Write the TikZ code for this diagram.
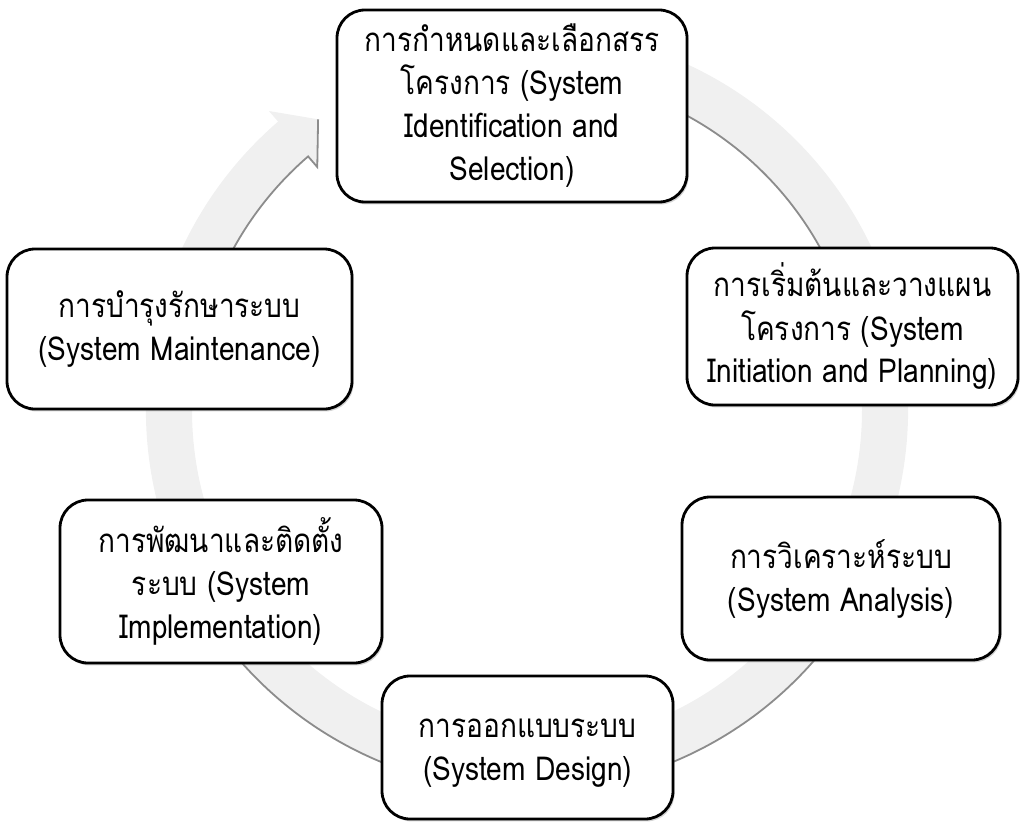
\documentclass[tikz,border=0pt]{standalone}
\usepackage{fontspec}
\newfontfamily\thaifont[Script=Thai, FakeStretch=0.85]{Loma}
\usetikzlibrary{calc,shadows}
\definecolor{bandgray}{RGB}{240,240,240}
\definecolor{bandedge}{RGB}{140,140,140}
\tikzset{
  stagefont/.style={align=center, font=\thaifont\fontsize{16.5}{21.5}\selectfont},
  stage/.style={draw=black, line width=1.4pt, fill=white, rounded corners=14pt,
    inner sep=0pt, stagefont,
    drop shadow={shadow xshift=0.8pt, shadow yshift=-1.2pt, opacity=0.35}},
  bandline/.style={draw=bandedge, line width=0.9pt},
}
\begin{document}
\begin{tikzpicture}[x=0.5pt,y=0.5pt]
\useasboundingbox (0,0) rectangle (1021,821);

% centre of the cycle and the key points of the arrow head
\coordinate (C) at (527,411);
\coordinate (ai) at ($(C)+(130.8:335)$);
\coordinate (bi) at ($(C)+(130.8:321)$);
\coordinate (bo) at ($(C)+(130.8:395)$);
\coordinate (tp) at ($(C)+(125.7:358)$);

% circular arrow band
\fill[bandgray] (ai) arc[start angle=130.8, end angle=435, radius=335]
  -- ($(C)+(435:381)$) arc[start angle=435, end angle=130.8, radius=381]
  -- (bo) -- (tp) -- (bi) -- cycle;

% shaded edges of the band
\draw[bandline] ($(C)+(165:335)$) arc[start angle=165, end angle=130.8, radius=335]
  -- (bi) -- (tp);
\draw[bandline] ($(C)+(15:335)$) arc[start angle=15, end angle=70, radius=335];
\draw[bandline] ($(C)+(200:381)$) arc[start angle=200, end angle=345, radius=381];

% the six stages
\node[stage, minimum width=175pt, minimum height=96pt] (ident) at (512,715)
  {การกำหนดและเลือกสรร\\โครงการ (System\\Identification and\\Selection)};
\node[stage, minimum width=165.5pt, minimum height=78.5pt] (plan) at (852.5,494.5)
  {การเริ่มต้นและวางแผน\\โครงการ (System\\Initiation and Planning)};
\node[stage, minimum width=159pt, minimum height=81.5pt] (anal) at (841,242.5)
  {การวิเคราะห์ระบบ\\(System Analysis)};
\node[stage, minimum width=145.5pt, minimum height=71.5pt,
  label={[stagefont, yshift=-3pt]center:{การออกแบบระบบ\\(System Design)}}]
  (design) at (527.5,73.5) {};
\node[stage, minimum width=161pt, minimum height=81.5pt] (impl) at (221,239.5)
  {การพัฒนาและติดตั้ง\\ระบบ (System\\Implementation)};
\node[stage, minimum width=172.5pt, minimum height=80pt] (maint) at (179.5,492)
  {การบำรุงรักษาระบบ\\(System Maintenance)};
\end{tikzpicture}
\end{document}
